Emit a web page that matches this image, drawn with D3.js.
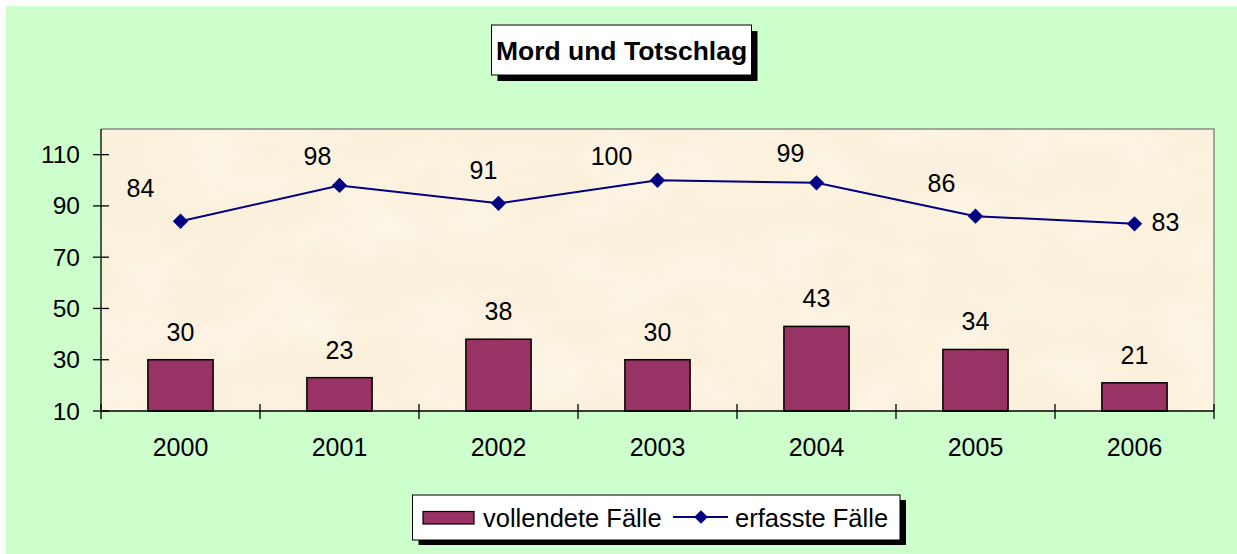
<!DOCTYPE html>
<html>
<head>
<meta charset="utf-8">
<script src="https://cdn.jsdelivr.net/npm/d3@7"></script>
<style>
  html, body { margin: 0; padding: 0; background: #ffffff; }
  svg { display: block; font-family: "Liberation Sans", Arial, sans-serif; }
</style>
</head>
<body>
<svg id="chart" width="1237" height="554"></svg>
<script>
// ---- data ----
const years = ["2000", "2001", "2002", "2003", "2004", "2005", "2006"];
const vollendete = [30, 23, 38, 30, 43, 34, 21];
const erfasste = [84, 98, 91, 100, 99, 86, 83];
const yTicks = [10, 30, 50, 70, 90, 110];
const title = "Mord und Totschlag";
const seriesNames = ["vollendete Fälle", "erfasste Fälle"];

// label placement tweaks for line labels (layout, px)
const lineLabelDx = [-40, -22, -15, -46, -26, -34, 31];
const lineLabelDy = [-33, -29, -33, -24, -30, -33, -2];

const svg = d3.select("#chart");
const W = 1237, H = 554;
const plot = { left: 101, top: 129, right: 1214, bottom: 411 };

const defs = svg.append("defs");
const f = defs.append("filter").attr("id", "paper").attr("x", 0).attr("y", 0).attr("width", 1).attr("height", 1);
f.append("feTurbulence").attr("type", "fractalNoise").attr("baseFrequency", "0.012 0.02").attr("numOctaves", 3).attr("seed", 7).attr("result", "n");
f.append("feColorMatrix").attr("in", "n").attr("type", "matrix")
  .attr("values", "0 0 0 0 1  0 0 0 0 0.98  0 0 0 0 0.94  0 0 0 1.3 -0.5");

// backgrounds
svg.append("rect").attr("x", 6).attr("y", 6).attr("width", W - 6).attr("height", H - 6).attr("fill", "#CCFFCC");
svg.append("rect").attr("x", plot.left).attr("y", plot.top)
  .attr("width", plot.right - plot.left).attr("height", plot.bottom - plot.top)
  .attr("fill", "#FBF0DB");
svg.append("rect").attr("x", plot.left).attr("y", plot.top)
  .attr("width", plot.right - plot.left).attr("height", plot.bottom - plot.top)
  .attr("filter", "url(#paper)").attr("opacity", 0.6);
// plot border (top/right gray)
svg.append("path")
  .attr("d", `M${plot.left},${plot.top}H${plot.right}V${plot.bottom}`)
  .attr("fill", "none").attr("stroke", "#8a8a8a").attr("stroke-width", 1.5);

// scales
const x = d3.scaleBand().domain(years).range([plot.left, plot.right]).paddingInner(0).paddingOuter(0);
const y = d3.scaleLinear().domain([10, 120]).range([plot.bottom, plot.top]);
const barW = x.bandwidth() * 0.41;
const cx = d => x(d) + x.bandwidth() / 2;

// bars
svg.append("g").selectAll("rect").data(years).join("rect")
  .attr("x", (d) => cx(d) - barW / 2)
  .attr("y", (d, i) => y(vollendete[i]))
  .attr("width", barW)
  .attr("height", (d, i) => y(10) - y(vollendete[i]))
  .attr("fill", "#993366").attr("stroke", "#000").attr("stroke-width", 1.5);

// bar labels
svg.append("g").selectAll("text").data(years).join("text")
  .attr("x", d => cx(d))
  .attr("y", (d, i) => y(vollendete[i]) - 28)
  .attr("text-anchor", "middle").attr("dominant-baseline", "central")
  .attr("font-size", 25).attr("fill", "#000")
  .text((d, i) => vollendete[i]);

// line
const line = d3.line().x((d, i) => cx(years[i])).y(d => y(d));
svg.append("path").datum(erfasste).attr("d", line)
  .attr("fill", "none").attr("stroke", "#000080").attr("stroke-width", 2);
svg.append("g").selectAll("path").data(erfasste).join("path")
  .attr("d", d3.symbol(d3.symbolDiamond2 || d3.symbolSquare, 150)())
  .attr("transform", (d, i) => `translate(${cx(years[i])},${y(d)}) rotate(${d3.symbolDiamond2 ? 0 : 45})`)
  .attr("fill", "#000080");

// line labels
svg.append("g").selectAll("text").data(erfasste).join("text")
  .attr("x", (d, i) => cx(years[i]) + lineLabelDx[i])
  .attr("y", (d, i) => y(d) + lineLabelDy[i])
  .attr("text-anchor", "middle").attr("dominant-baseline", "central")
  .attr("font-size", 25).attr("fill", "#000")
  .text(d => d);

// y axis
const yAxis = svg.append("g");
yAxis.append("line").attr("x1", plot.left).attr("x2", plot.left).attr("y1", plot.top).attr("y2", plot.bottom)
  .attr("stroke", "#000").attr("stroke-width", 1.3);
yAxis.selectAll("line.t").data(yTicks).join("line").attr("class", "t")
  .attr("x1", plot.left - 8).attr("x2", plot.left + 8)
  .attr("y1", d => y(d)).attr("y2", d => y(d))
  .attr("stroke", "#000").attr("stroke-width", 1.3);
yAxis.selectAll("text").data(yTicks).join("text")
  .attr("x", plot.left - 21).attr("y", d => y(d))
  .attr("text-anchor", "end").attr("dominant-baseline", "central")
  .attr("font-size", 24.5).attr("fill", "#000")
  .text(d => d);

// x axis
const xAxis = svg.append("g");
xAxis.append("line").attr("x1", plot.left).attr("x2", plot.right).attr("y1", plot.bottom).attr("y2", plot.bottom)
  .attr("stroke", "#000").attr("stroke-width", 1.3);
const xTickPos = years.map(d => x(d)).concat([x(years[years.length - 1]) + x.bandwidth()]);
xAxis.selectAll("line.t").data(xTickPos).join("line").attr("class", "t")
  .attr("x1", d => d).attr("x2", d => d)
  .attr("y1", plot.bottom - 7).attr("y2", plot.bottom + 8)
  .attr("stroke", "#000").attr("stroke-width", 1.3);
xAxis.selectAll("text").data(years).join("text")
  .attr("x", d => cx(d)).attr("y", 447)
  .attr("text-anchor", "middle").attr("dominant-baseline", "central")
  .attr("font-size", 25).attr("fill", "#000")
  .text(d => d);

// title box
const tb = { x: 491.5, y: 25, w: 260, h: 50 };
svg.append("rect").attr("x", tb.x + 6).attr("y", tb.y + 6).attr("width", tb.w).attr("height", tb.h).attr("fill", "#000");
svg.append("rect").attr("x", tb.x).attr("y", tb.y).attr("width", tb.w).attr("height", tb.h)
  .attr("fill", "#fff").attr("stroke", "#000").attr("stroke-width", 1);
svg.append("text").attr("x", tb.x + tb.w / 2).attr("y", tb.y + tb.h / 2 + 1)
  .attr("text-anchor", "middle").attr("dominant-baseline", "central")
  .attr("font-size", 26.5).attr("font-weight", "bold").attr("fill", "#000")
  .text(title);

// legend
const lg = { x: 412.5, y: 495, w: 487.5, h: 45 };
svg.append("rect").attr("x", lg.x + 6).attr("y", lg.y + 5).attr("width", lg.w).attr("height", lg.h).attr("fill", "#000");
svg.append("rect").attr("x", lg.x).attr("y", lg.y).attr("width", lg.w).attr("height", lg.h)
  .attr("fill", "#fff").attr("stroke", "#000").attr("stroke-width", 1);
const lcy = lg.y + 23;
svg.append("rect").attr("x", 423).attr("y", 511.5).attr("width", 51).attr("height", 12.5)
  .attr("fill", "#993366").attr("stroke", "#000").attr("stroke-width", 1.2);
svg.append("text").attr("x", 483).attr("y", lcy).attr("dominant-baseline", "central")
  .attr("font-size", 25.5).attr("fill", "#000").text(seriesNames[0]);
svg.append("line").attr("x1", 673).attr("x2", 728).attr("y1", lcy - 1).attr("y2", lcy - 1)
  .attr("stroke", "#000080").attr("stroke-width", 2);
svg.append("path").attr("d", d3.symbol(d3.symbolDiamond2 || d3.symbolSquare, 120)())
  .attr("transform", `translate(701,${lcy - 1}) rotate(${d3.symbolDiamond2 ? 0 : 45})`)
  .attr("fill", "#000080");
svg.append("text").attr("x", 735).attr("y", lcy).attr("dominant-baseline", "central")
  .attr("font-size", 25.5).attr("fill", "#000").text(seriesNames[1]);
</script>
</body>
</html>
